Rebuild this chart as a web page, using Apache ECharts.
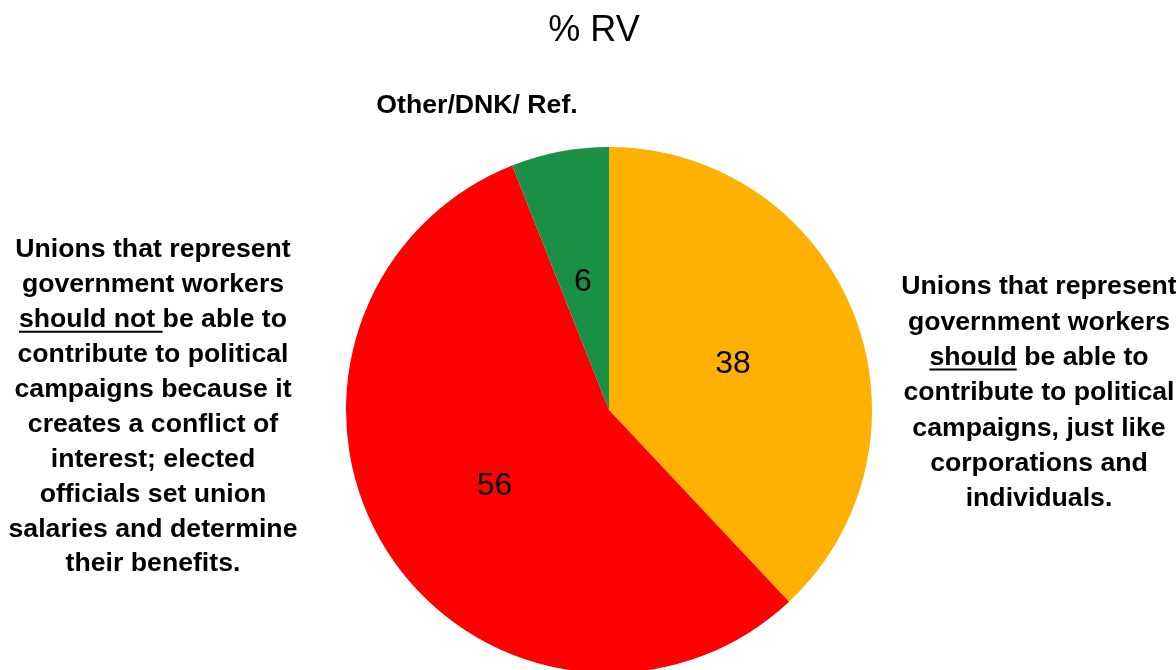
<!DOCTYPE html>
<html>
<head>
<meta charset="utf-8">
<script src="https://cdn.jsdelivr.net/npm/echarts@6/dist/echarts.min.js"></script>
<style>
    html, body { margin: 0; padding: 0; background: #fff; }
    #chart { width: 1176px; height: 670px; }
</style>
</head>
<body>
<div id="chart"></div>
<script>
    // slice order: clockwise from 12 o'clock
    const categories = ['Should', 'Should not', 'Other/DNK/ Ref.'];
    const values = [38, 56, 6];
    const colors = ['#FFB000', '#FF0000', '#1A9046'];

    const titleText = '% RV';
    const shouldNotLines = [
        'Unions that represent',
        'government workers',
        'should not be able to',
        'contribute to political',
        'campaigns because it',
        'creates a conflict of',
        'interest; elected',
        'officials set union',
        'salaries and determine',
        'their benefits.'
    ];
    const shouldLines = [
        'Unions that represent',
        'government workers',
        'should be able to',
        'contribute to political',
        'campaigns, just like',
        'corporations and',
        'individuals.'
    ];
    const otherLabel = 'Other/DNK/ Ref.';

    const FONT = '"Liberation Sans", Arial, sans-serif';
    const blockFont = 'bold 26.67px ' + FONT;

    const ctx = document.createElement('canvas').getContext('2d');
    ctx.font = blockFont;

    // one text element per line, plus an underline under a prefix of one line
    function textBlock(lines, cx, top, step, ulLine, ulText) {
        const els = [];
        lines.forEach((t, i) => {
            const y = top + i * step;
            els.push({
                type: 'text',
                style: { text: t, x: cx, y: y, font: blockFont, fill: '#000',
                    textAlign: 'center', textVerticalAlign: 'middle' }
            });
            if (i === ulLine) {
                const w = ctx.measureText(t).width;
                const uw = ctx.measureText(ulText).width;
                const x0 = cx - w / 2;
                els.push({
                    type: 'line',
                    shape: { x1: x0, y1: y + 12, x2: x0 + uw, y2: y + 12 },
                    style: { stroke: '#000', lineWidth: 2 }
                });
            }
        });
        return els;
    }

    const graphics = [
        {
            type: 'text',
            style: { text: titleText, x: 594, y: 31, font: '36px ' + FONT, fill: '#000',
                textAlign: 'center', textVerticalAlign: 'middle' }
        },
        {
            type: 'text',
            style: { text: otherLabel, x: 477, y: 106, font: 'bold 26.67px ' + FONT, fill: '#000',
                textAlign: 'center', textVerticalAlign: 'middle' }
        }
    ].concat(
        textBlock(shouldNotLines, 153, 250, 34.9, 2, 'should not '),
        textBlock(shouldLines, 1039, 287, 35.3, 2, 'should')
    );

    const chart = echarts.init(document.getElementById('chart'));
    chart.setOption({
        animation: false,
        backgroundColor: '#fff',
        graphic: graphics,
        series: [
            {
                type: 'pie',
                center: [609, 410],
                radius: 263,
                startAngle: 90,
                clockwise: true,
                silent: true,
                itemStyle: { borderWidth: 0 },
                label: {
                    show: true,
                    position: 'inside',
                    formatter: '{c}',
                    color: '#000',
                    fontSize: 32,
                    fontFamily: FONT,
                    offset: [-1, 4]
                },
                labelLine: { show: false },
                data: categories.map((name, i) => ({
                    name: name,
                    value: values[i],
                    itemStyle: { color: colors[i] }
                }))
            }
        ]
    });
</script>
</body>
</html>
